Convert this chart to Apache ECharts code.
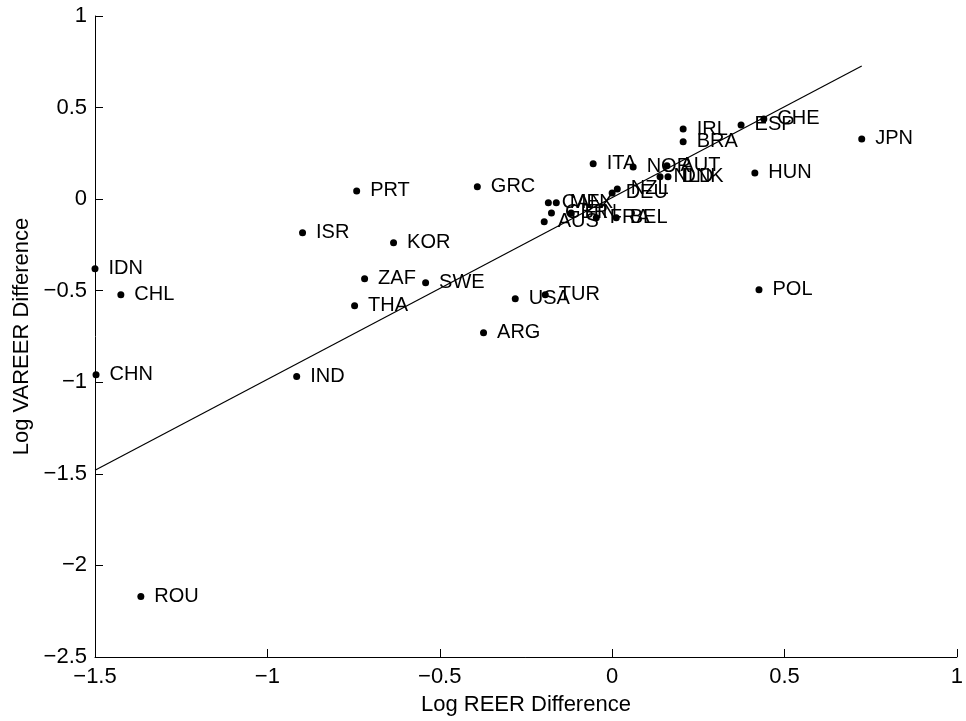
<!DOCTYPE html>
<html><head><meta charset="utf-8">
<script src="https://cdn.jsdelivr.net/npm/echarts@6/dist/echarts.min.js"></script>
<style>html,body{margin:0;padding:0;background:#fff}#c{width:966px;height:721px}</style>
</head><body><div id="c"></div>
<script>
const countries = ['IDN','CHL','CHN','ROU','IND','ISR','PRT','ZAF','THA','KOR','SWE','GRC','ARG','USA','TUR','AUS','CAN','MEX','GBR','FIN','FRA','BEL','ITA','NOR','AUT','NLD','DNK','NZL','DEU','IRL','BRA','ESP','CHE','JPN','HUN','POL'];
const reerDiff = [-1.500,-1.425,-1.497,-1.367,-0.915,-0.898,-0.741,-0.718,-0.747,-0.634,-0.541,-0.391,-0.373,-0.281,-0.194,-0.197,-0.185,-0.162,-0.176,-0.119,-0.046,0.012,-0.055,0.061,0.159,0.139,0.162,0.015,0.000,0.206,0.206,0.374,0.440,0.724,0.414,0.426];
const vareerDiff = [-0.380,-0.522,-0.959,-2.170,-0.969,-0.184,0.045,-0.435,-0.582,-0.238,-0.457,0.067,-0.729,-0.544,-0.522,-0.124,-0.020,-0.020,-0.075,-0.075,-0.102,-0.102,0.193,0.176,0.182,0.122,0.122,0.056,0.034,0.383,0.313,0.405,0.438,0.329,0.143,-0.495];
const fitX = [-1.5, 0.724];
const fitY = [-1.480, 0.727];
const xTicks = [-1.5,-1,-0.5,0,0.5,1];
const yTicks = [-2.5,-2,-1.5,-1,-0.5,0,0.5,1];

const fmt = v => String(v).replace('-', '\u2212');
const font = 'Liberation Sans, Arial, sans-serif';
const chart = echarts.init(document.getElementById('c'));
chart.setOption({
  animation:false,
  backgroundColor:'#fff',
  grid:{left:95,right:8,top:16,bottom:64,containLabel:false},
  xAxis:{type:'value',min:xTicks[0],max:xTicks[xTicks.length-1],interval:0.5,
    name:'Log REER Difference',nameLocation:'middle',nameGap:37,
    nameTextStyle:{color:'#000',fontSize:22,fontFamily:font},
    axisLine:{show:true,onZero:false,lineStyle:{color:'#000',width:1}},
    axisTick:{show:true,inside:true,length:8,lineStyle:{color:'#000'}},
    axisLabel:{color:'#000',fontSize:22,fontFamily:font,margin:9,formatter:fmt,showMinLabel:true,showMaxLabel:true},
    splitLine:{show:false}},
  yAxis:{type:'value',min:yTicks[0],max:yTicks[yTicks.length-1],interval:0.5,
    name:'Log VAREER Difference',nameLocation:'middle',nameGap:62,nameRotate:90,
    nameTextStyle:{color:'#000',fontSize:22,fontFamily:font},
    axisLine:{show:true,onZero:false,lineStyle:{color:'#000',width:1}},
    axisTick:{show:true,inside:true,length:8,lineStyle:{color:'#000'}},
    axisLabel:{color:'#000',fontSize:22,fontFamily:font,margin:8,formatter:fmt,showMinLabel:true,showMaxLabel:true},
    splitLine:{show:false}},
  series:[
    {type:'line',data:fitX.map((x,i)=>[x,fitY[i]]),showSymbol:false,symbol:'none',
     lineStyle:{color:'#000',width:1.2},z:3,silent:true},
    {type:'scatter',symbolSize:7,itemStyle:{color:'#000',opacity:1},z:4,
     data:countries.map((c,i)=>[reerDiff[i],vareerDiff[i],c]),
     label:{show:true,position:'right',distance:10,offset:[0,3],color:'#000',fontSize:20,fontFamily:font,
       textBorderWidth:0,formatter:p=>p.data[2]},
     labelLayout:{hideOverlap:false}}
  ]
});
</script></body></html>
